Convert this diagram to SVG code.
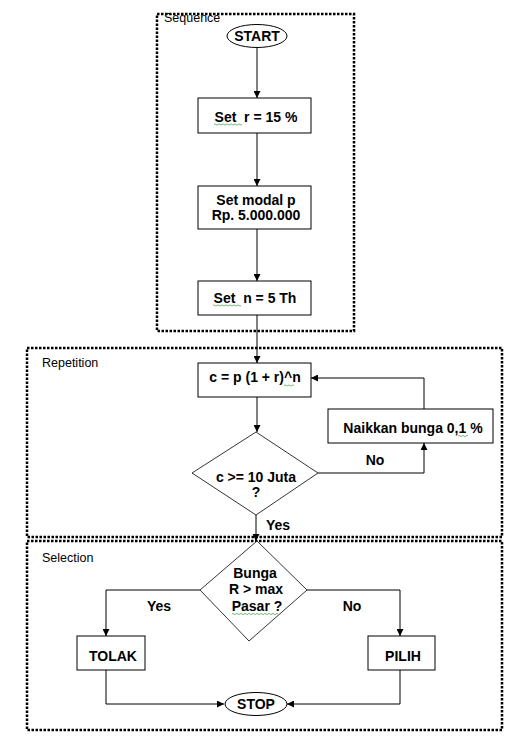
<svg xmlns="http://www.w3.org/2000/svg" width="530" height="743" viewBox="0 0 530 743">
<defs>
<marker id="ah" viewBox="0 0 10 10" refX="10" refY="5" markerWidth="7" markerHeight="7" markerUnits="userSpaceOnUse" orient="auto">
<path d="M0,0 L10,5 L0,10 z" fill="#000"/>
</marker>
</defs>
<style>
.grp{fill:none;stroke:#000;stroke-width:2.5;stroke-dasharray:2.5 1.5}
.box{fill:#fff;stroke:#000;stroke-width:1}
.dia{fill:#fff;stroke:#000;stroke-width:0.8}
.t{font-family:"Liberation Sans",Arial,sans-serif;font-size:14px;font-weight:bold;fill:#000;text-anchor:middle}
.lab{font-family:"Liberation Sans",Arial,sans-serif;font-size:12.5px;fill:#000}
.c{fill:none;stroke:#000;stroke-width:1;marker-end:url(#ah)}
.sq{fill:none;stroke:#3a9a3a;stroke-width:0.7}
</style>
<rect width="530" height="743" fill="#fff"/>
<g id="groups">
<rect class="grp" x="157" y="14" width="197" height="317"/>
<text class="lab" x="164" y="22">Sequence</text>
<rect class="grp" x="27" y="348" width="475" height="189"/>
<text class="lab" x="42" y="367">Repetition</text>
<rect class="grp" x="27" y="541" width="475" height="189"/>
<text class="lab" x="42" y="562">Selection</text>
</g>
<g id="connectors">
<path class="c" d="M257,47 V98"/>
<path class="c" d="M257,133 V186"/>
<path class="c" d="M257,229 V281"/>
<path class="c" d="M257,315 V363"/>
<path class="c" d="M257,397 V432"/>
<path class="c" d="M256,515 V541"/>
<path class="c" d="M318,473 H424 V443"/>
<path class="c" d="M424,409 V378 H311"/>
<path class="c" d="M200,590 H106 V636"/>
<path class="c" d="M307,590 H400 V636"/>
<path class="c" d="M106,670 V704 H224"/>
<path class="c" d="M400,670 V704 H287"/>
<text class="t" x="375" y="465">No</text>
<text class="t" x="278" y="530">Yes</text>
<text class="t" x="159" y="611">Yes</text>
<text class="t" x="352" y="611">No</text>
</g>
<g id="start">
<ellipse class="box" cx="257" cy="36" rx="30" ry="11.5" stroke-width="1.5"/>
<text class="t" x="257" y="41">START</text>
</g>
<g id="set-r">
<rect class="box" x="198" y="98" width="113" height="35"/>
<text class="t" x="256" y="122" xml:space="preserve">Set  r = 15 %</text>
<path class="sq" d="M214,124.5 q1,-1.2 2,0 t2,0 t2,0 t2,0 t2,0 t2,0 t2,0 t2,0 t2,0 t2,0 t2,0 t2,0 t2,0 t2,0"/>
</g>
<g id="set-modal">
<rect class="box" x="198" y="186" width="113" height="43"/>
<text class="t" x="256" y="205">Set modal p</text>
<text class="t" x="256" y="220">Rp. 5.000.000</text>
</g>
<g id="set-n">
<rect class="box" x="198" y="281" width="113" height="34"/>
<text class="t" x="255" y="303" xml:space="preserve">Set  n = 5 Th</text>
<path class="sq" d="M213,305.5 q1,-1.2 2,0 t2,0 t2,0 t2,0 t2,0 t2,0 t2,0 t2,0 t2,0 t2,0 t2,0 t2,0 t2,0 t2,0"/>
</g>
<g id="calc">
<rect class="box" x="198" y="363" width="113" height="34"/>
<text class="t" x="255" y="382">c = p (1 + r)^n</text>
<path class="sq" d="M284,385.5 q1,-1.2 2,0 t2,0 t2,0 t2,0 t2,0"/>
</g>
<g id="check-c">
<polygon class="dia" points="256,432 318,473 256,515 192,473"/>
<text class="t" x="256" y="482">c &gt;= 10 Juta</text>
<text class="t" x="256" y="497">?</text>
</g>
<g id="naikkan">
<rect class="box" x="328" y="409" width="165" height="34"/>
<text class="t" x="413" y="433">Naikkan bunga 0,1 %</text>
<path class="sq" d="M458,436 q1,-1.2 2,0 t2,0 t2,0 t2,0 t2,0"/>
</g>
<g id="check-bunga">
<polygon class="dia" points="257,541 307,590 249,641 200,590"/>
<text class="t" x="255" y="578">Bunga</text>
<text class="t" x="256" y="594">R &gt; max</text>
<text class="t" x="257" y="611">Pasar ?</text>
<path class="sq" d="M232,614 q1,-1.2 2,0 t2,0 t2,0 t2,0 t2,0 t2,0 t2,0 t2,0 t2,0 t2,0 t2,0 t2,0 t2,0 t2,0 t2,0 t2,0 t2,0 t2,0 t2,0 t2,0 t2,0 t2,0 t2,0"/>
</g>
<g id="tolak">
<rect class="box" x="77" y="636" width="68" height="34"/>
<text class="t" x="113" y="661">TOLAK</text>
</g>
<g id="pilih">
<rect class="box" x="368" y="636" width="67" height="34"/>
<text class="t" x="403" y="661">PILIH</text>
</g>
<g id="stop">
<ellipse class="box" cx="256" cy="704" rx="31" ry="11.5" stroke-width="1.5"/>
<text class="t" x="256" y="709">STOP</text>
</g>
</svg>
